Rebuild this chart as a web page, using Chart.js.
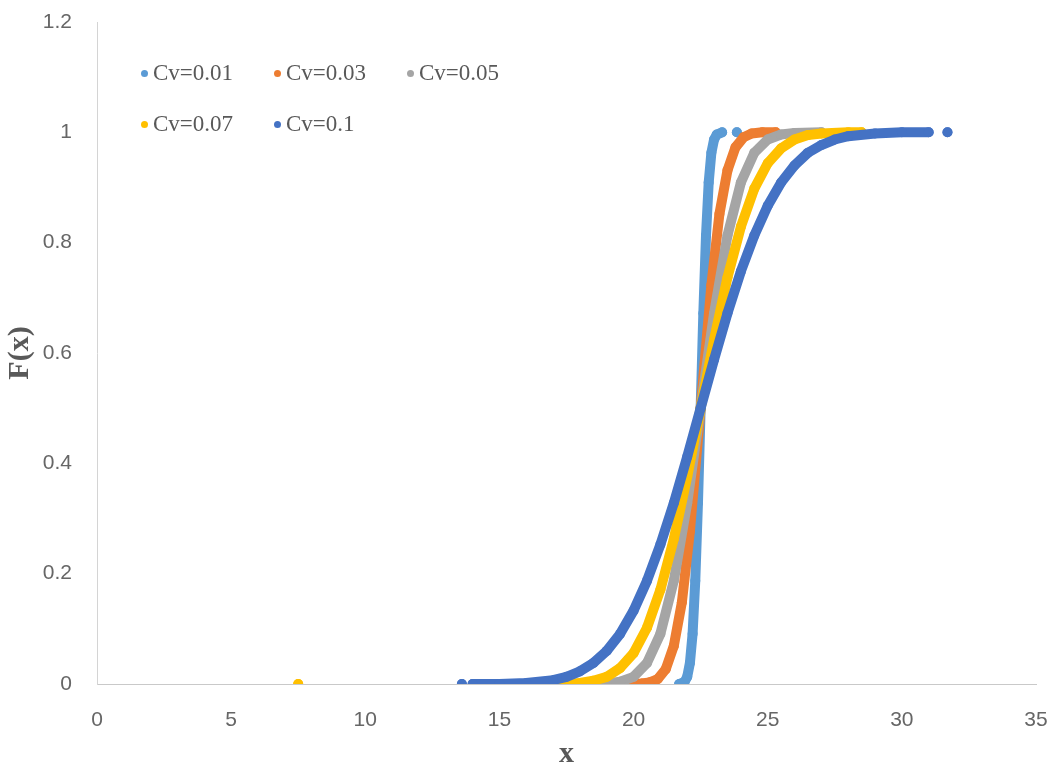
<!DOCTYPE html>
<html>
<head>
<meta charset="utf-8">
<script src="https://cdn.jsdelivr.net/npm/chart.js@4.4.1/dist/chart.umd.min.js"></script>
<style>
    html, body { margin: 0; padding: 0; background: #fff; }
    #wrap { position: relative; width: 1057px; height: 765px; }
    #legend {
        position: absolute; left: 141px; top: 56px;
        display: grid; grid-template-columns: 133px 133px 133px;
        grid-auto-rows: 51px;
        font-family: "Liberation Serif", "Times New Roman", serif;
        font-size: 23px; color: #595959;
    }
    .item { display: flex; align-items: center; height: 34px; }
    .dot { width: 7px; height: 7px; border-radius: 50%; margin-right: 5px; }
</style>
</head>
<body>
<div id="wrap">
    <canvas id="myChart" width="1057" height="765"></canvas>
    <div id="legend"></div>
</div>
<script>
/*-------------------------------------------------------------------------------
 DATA
 -------------------------------------------------------------------------------*/

const seriesLabels = ['Cv=0.01', 'Cv=0.03', 'Cv=0.05', 'Cv=0.07', 'Cv=0.1'];
const seriesColors = ['#5B9BD5', '#ED7D31', '#A5A5A5', '#FFC000', '#4472C4'];

// null = break in the curve (lone dots)
const cv01X = [21.7, 21.9, 22.0, 22.1, 22.2, 22.3, 22.4, 22.5, 22.6, 22.7, 22.8, 22.9, 23.0, 23.1, 23.3, 23.55, 23.85];
const cv01Y = [0, 0.004, 0.013, 0.038, 0.091, 0.187, 0.328, 0.5, 0.672, 0.813, 0.909, 0.963, 0.987, 0.996, 1, null, 1];

const cv03X = [19.8, 20.3, 20.6, 20.9, 21.2, 21.5, 21.8, 22.1, 22.5, 22.9, 23.2, 23.5, 23.8, 24.1, 24.4, 24.8, 25.3];
const cv03Y = [0, 0.001, 0.003, 0.009, 0.027, 0.069, 0.148, 0.277, 0.5, 0.723, 0.852, 0.931, 0.973, 0.991, 0.998, 1, 1];

const cv05X = [18.5, 19.0, 19.5, 20.0, 20.5, 21.0, 21.5, 22.0, 22.5, 23.0, 23.5, 24.0, 24.5, 25.0, 25.5, 26.0, 27.0];
const cv05Y = [0, 0.001, 0.004, 0.013, 0.038, 0.091, 0.187, 0.328, 0.5, 0.672, 0.813, 0.909, 0.963, 0.987, 0.996, 0.999, 1];

const cv07X = [7.5, 7.6, 17.0, 18.0, 18.5, 19.0, 19.5, 20.0, 20.5, 21.0, 21.5, 22.0, 22.5, 23.0, 23.5, 24.0, 24.5, 25.0, 25.5, 26.0, 26.5, 27.0, 28.0, 28.5];
const cv07Y = [0, null, 0, 0.002, 0.006, 0.013, 0.029, 0.056, 0.102, 0.171, 0.263, 0.376, 0.5, 0.624, 0.737, 0.829, 0.898, 0.944, 0.971, 0.987, 0.995, 0.998, 1, 1];

const cv1X = [13.6, 13.8, 14.0, 15.0, 16.0, 17.0, 17.5, 18.0, 18.5, 19.0, 19.5, 20.0, 20.5, 21.0, 21.5, 22.0, 22.5, 23.0, 23.5, 24.0, 24.5, 25.0, 25.5, 26.0, 26.5, 27.0, 27.5, 28.0, 29.0, 30.0, 31.0, 31.3, 31.7];
const cv1Y = [0, null, 0, 0, 0.002, 0.007, 0.013, 0.023, 0.038, 0.06, 0.091, 0.133, 0.187, 0.253, 0.328, 0.412, 0.5, 0.588, 0.672, 0.748, 0.813, 0.867, 0.909, 0.94, 0.963, 0.977, 0.987, 0.993, 0.998, 1, 1, null, 1];

const xTicks = [0, 5, 10, 15, 20, 25, 30, 35];
const yTicks = [0, 0.2, 0.4, 0.6, 0.8, 1, 1.2];
const yTickLabels = ['0', '0.2', '0.4', '0.6', '0.8', '1', '1.2'];

const allX = [cv01X, cv03X, cv05X, cv07X, cv1X];
const allY = [cv01Y, cv03Y, cv05Y, cv07Y, cv1Y];


/*-------------------------------------------------------------------------------
 CHART
 -------------------------------------------------------------------------------*/

function toPoints(xs, ys) {
    let pts = [];
    for (let i = 0; i < xs.length; i++) {
        pts.push({x: xs[i], y: ys[i]});
    }
    return pts;
}

function buildLegend() {
    let box = document.getElementById('legend');
    for (let i = 0; i < seriesLabels.length; i++) {
        let item = document.createElement('div');
        item.className = 'item';
        item.innerHTML = '<span class="dot" style="background:' + seriesColors[i] + '"></span>' + seriesLabels[i];
        box.appendChild(item);
    }
}

function charVisual() {
    let datasets = [];
    for (let i = 0; i < seriesLabels.length; i++) {
        datasets.push({
            label: seriesLabels[i],
            data: toPoints(allX[i], allY[i]),
            showLine: true,
            spanGaps: false,
            borderColor: seriesColors[i],
            backgroundColor: seriesColors[i],
            borderWidth: 10,
            borderCapStyle: 'round',
            borderJoinStyle: 'round',
            pointRadius: 5,
            pointBorderWidth: 0,
            order: seriesLabels.length - i   // last series on top, like the original
        });
    }

    let tickFont = {family: '"Liberation Sans", Arial, sans-serif', size: 21};
    let serif = '"Liberation Serif", "Times New Roman", serif';

    let ctx = document.getElementById('myChart').getContext('2d');
    new Chart(ctx, {
        type: 'scatter',
        data: {datasets: datasets},
        options: {
            responsive: false,
            animation: false,
            layout: {autoPadding: false, padding: {top: 22, right: 21, left: 0, bottom: 0}},
            plugins: {legend: {display: false}, tooltip: {enabled: false}},
            scales: {
                x: {
                    type: 'linear', min: 0, max: 35,
                    afterBuildTicks: (axis) => { axis.ticks = xTicks.map(v => ({value: v})); },
                    afterFit: (axis) => { axis.height = 81; axis.paddingLeft = 0; axis.paddingRight = 0; },
                    grid: {display: false, drawTicks: false},
                    border: {display: true, color: '#c9c9c9', width: 1},
                    ticks: {font: tickFont, color: '#666', padding: 24, maxRotation: 0},
                    title: {display: true, text: 'x', font: {family: serif, size: 30, weight: 'bold', lineHeight: 0.7},
                        color: '#595959', padding: {top: 0, bottom: 0}}
                },
                y: {
                    type: 'linear', min: 0, max: 1.2,
                    afterBuildTicks: (axis) => { axis.ticks = yTicks.map(v => ({value: v})); },
                    afterFit: (axis) => { axis.width = 97; axis.paddingTop = 0; axis.paddingBottom = 0; },
                    grid: {display: false, drawTicks: false},
                    border: {display: true, color: '#d4d4d4', width: 1},
                    ticks: {font: tickFont, color: '#666', padding: 25,
                        callback: (value, index) => yTickLabels[index]},
                    title: {display: true, text: 'F(x)', font: {family: serif, size: 30, weight: 'bold', lineHeight: 1.2},
                        color: '#595959', padding: {top: 2, bottom: 0}}
                }
            }
        }
    });
}

buildLegend();
charVisual();
</script>
</body>
</html>
